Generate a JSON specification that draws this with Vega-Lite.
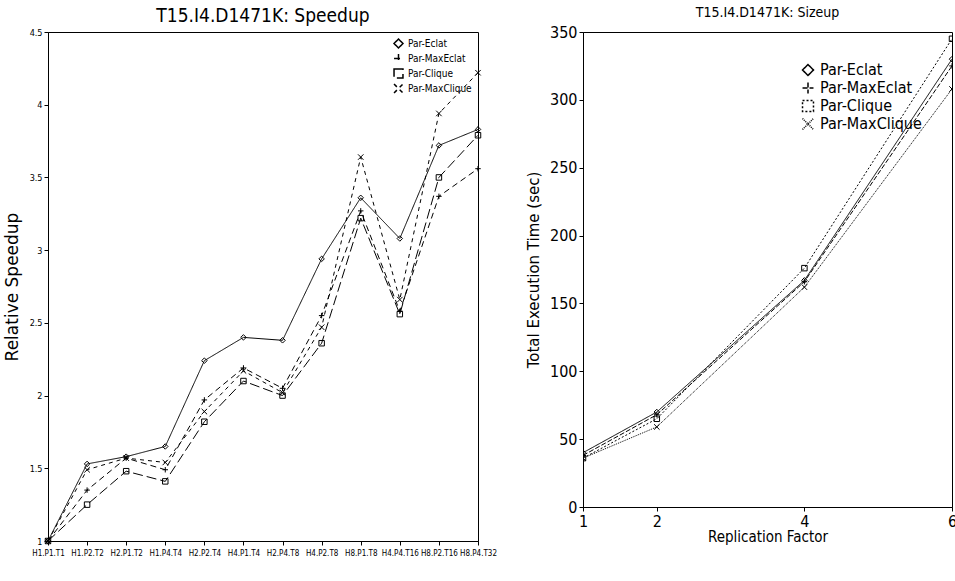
{
  "$schema": "https://vega.github.io/schema/vega-lite/v6.json",
  "background": "white",
  "padding": {"left": 2, "top": 5, "right": 0, "bottom": 0},
  "datasets": {
    "speedup": [
      {"config": "H1.P1.T1", "algo": "Par-Eclat", "speedup": 1.0},
      {"config": "H1.P2.T2", "algo": "Par-Eclat", "speedup": 1.53},
      {"config": "H2.P1.T2", "algo": "Par-Eclat", "speedup": 1.58},
      {"config": "H1.P4.T4", "algo": "Par-Eclat", "speedup": 1.65},
      {"config": "H2.P2.T4", "algo": "Par-Eclat", "speedup": 2.24},
      {"config": "H4.P1.T4", "algo": "Par-Eclat", "speedup": 2.40},
      {"config": "H2.P4.T8", "algo": "Par-Eclat", "speedup": 2.38},
      {"config": "H4.P2.T8", "algo": "Par-Eclat", "speedup": 2.94},
      {"config": "H8.P1.T8", "algo": "Par-Eclat", "speedup": 3.36},
      {"config": "H4.P4.T16", "algo": "Par-Eclat", "speedup": 3.08},
      {"config": "H8.P2.T16", "algo": "Par-Eclat", "speedup": 3.72},
      {"config": "H8.P4.T32", "algo": "Par-Eclat", "speedup": 3.83},
      {"config": "H1.P1.T1", "algo": "Par-MaxEclat", "speedup": 1.0},
      {"config": "H1.P2.T2", "algo": "Par-MaxEclat", "speedup": 1.35},
      {"config": "H2.P1.T2", "algo": "Par-MaxEclat", "speedup": 1.57},
      {"config": "H1.P4.T4", "algo": "Par-MaxEclat", "speedup": 1.49},
      {"config": "H2.P2.T4", "algo": "Par-MaxEclat", "speedup": 1.97},
      {"config": "H4.P1.T4", "algo": "Par-MaxEclat", "speedup": 2.19},
      {"config": "H2.P4.T8", "algo": "Par-MaxEclat", "speedup": 2.05},
      {"config": "H4.P2.T8", "algo": "Par-MaxEclat", "speedup": 2.55},
      {"config": "H8.P1.T8", "algo": "Par-MaxEclat", "speedup": 3.27},
      {"config": "H4.P4.T16", "algo": "Par-MaxEclat", "speedup": 2.58},
      {"config": "H8.P2.T16", "algo": "Par-MaxEclat", "speedup": 3.37},
      {"config": "H8.P4.T32", "algo": "Par-MaxEclat", "speedup": 3.56},
      {"config": "H1.P1.T1", "algo": "Par-Clique", "speedup": 1.0},
      {"config": "H1.P2.T2", "algo": "Par-Clique", "speedup": 1.25},
      {"config": "H2.P1.T2", "algo": "Par-Clique", "speedup": 1.48},
      {"config": "H1.P4.T4", "algo": "Par-Clique", "speedup": 1.41},
      {"config": "H2.P2.T4", "algo": "Par-Clique", "speedup": 1.82},
      {"config": "H4.P1.T4", "algo": "Par-Clique", "speedup": 2.10},
      {"config": "H2.P4.T8", "algo": "Par-Clique", "speedup": 2.00},
      {"config": "H4.P2.T8", "algo": "Par-Clique", "speedup": 2.36},
      {"config": "H8.P1.T8", "algo": "Par-Clique", "speedup": 3.22},
      {"config": "H4.P4.T16", "algo": "Par-Clique", "speedup": 2.56},
      {"config": "H8.P2.T16", "algo": "Par-Clique", "speedup": 3.50},
      {"config": "H8.P4.T32", "algo": "Par-Clique", "speedup": 3.79},
      {"config": "H1.P1.T1", "algo": "Par-MaxClique", "speedup": 1.0},
      {"config": "H1.P2.T2", "algo": "Par-MaxClique", "speedup": 1.49},
      {"config": "H2.P1.T2", "algo": "Par-MaxClique", "speedup": 1.57},
      {"config": "H1.P4.T4", "algo": "Par-MaxClique", "speedup": 1.54},
      {"config": "H2.P2.T4", "algo": "Par-MaxClique", "speedup": 1.89},
      {"config": "H4.P1.T4", "algo": "Par-MaxClique", "speedup": 2.17},
      {"config": "H2.P4.T8", "algo": "Par-MaxClique", "speedup": 2.02},
      {"config": "H4.P2.T8", "algo": "Par-MaxClique", "speedup": 2.47},
      {"config": "H8.P1.T8", "algo": "Par-MaxClique", "speedup": 3.64},
      {"config": "H4.P4.T16", "algo": "Par-MaxClique", "speedup": 2.66},
      {"config": "H8.P2.T16", "algo": "Par-MaxClique", "speedup": 3.94},
      {"config": "H8.P4.T32", "algo": "Par-MaxClique", "speedup": 4.22}
    ],
    "sizeup": [
      {"factor": 1, "algo": "Par-Eclat", "time": 40},
      {"factor": 2, "algo": "Par-Eclat", "time": 70},
      {"factor": 4, "algo": "Par-Eclat", "time": 167},
      {"factor": 6, "algo": "Par-Eclat", "time": 330},
      {"factor": 1, "algo": "Par-MaxEclat", "time": 38},
      {"factor": 2, "algo": "Par-MaxEclat", "time": 68},
      {"factor": 4, "algo": "Par-MaxEclat", "time": 166},
      {"factor": 6, "algo": "Par-MaxEclat", "time": 325},
      {"factor": 1, "algo": "Par-Clique", "time": 36},
      {"factor": 2, "algo": "Par-Clique", "time": 65},
      {"factor": 4, "algo": "Par-Clique", "time": 176},
      {"factor": 6, "algo": "Par-Clique", "time": 345},
      {"factor": 1, "algo": "Par-MaxClique", "time": 36},
      {"factor": 2, "algo": "Par-MaxClique", "time": 59},
      {"factor": 4, "algo": "Par-MaxClique", "time": 162},
      {"factor": 6, "algo": "Par-MaxClique", "time": 308}
    ]
  },
  "hconcat": [
    {
      "width": 430,
      "height": 509,
      "title": {"text": "T15.I4.D1471K: Speedup", "fontSize": 19, "fontWeight": "normal", "offset": 2},
      "data": {"name": "speedup"},
      "encoding": {
        "x": {"field": "config", "type": "ordinal", "title": null,
          "sort": ["H1.P1.T1", "H1.P2.T2", "H2.P1.T2", "H1.P4.T4", "H2.P2.T4", "H4.P1.T4", "H2.P4.T8", "H4.P2.T8", "H8.P1.T8", "H4.P4.T16", "H8.P2.T16", "H8.P4.T32"],
          "scale": {"type": "point", "padding": 0},
          "axis": {"labelAngle": 0, "labelFontSize": 8, "labelOverlap": false, "labelPadding": 4}},
        "y": {"field": "speedup", "type": "quantitative", "title": "Relative Speedup",
          "scale": {"domain": [1, 4.5]},
          "axis": {"values": [1, 1.5, 2, 2.5, 3, 3.5, 4, 4.5], "format": "~g", "labelFontSize": 9, "titleFontSize": 17, "titleFont": "DejaVu Sans", "titleFontWeight": "normal", "titlePadding": 8}}
      },
      "layer": [
        {"mark": {"type": "line", "color": "black", "strokeWidth": 1},
         "encoding": {"strokeDash": {"field": "algo", "type": "nominal", "title": "",
          "scale": {"domain": ["Par-Eclat", "Par-MaxEclat", "Par-Clique", "Par-MaxClique"], "range": [[1, 0], [6, 4], [10, 4], [4, 4]]},
          "legend": {"orient": "top-right", "labelFontSize": 10, "offset": 6, "symbolSize": 80}}}},
        {"mark": {"type": "point", "stroke": "black", "filled": false, "fillOpacity": 0, "size": 30, "strokeWidth": 1},
         "encoding": {"shape": {"field": "algo", "type": "nominal", "legend": null,
          "scale": {"domain": ["Par-Eclat", "Par-MaxEclat", "Par-Clique", "Par-MaxClique"], "range": ["diamond", "M-1,0H1M0,-1V1", "square", "M-1,-1L1,1M-1,1L1,-1"]}}}}
      ]
    },
    {
      "width": 369,
      "height": 475,
      "title": {"text": "T15.I4.D1471K: Sizeup", "fontSize": 14, "fontWeight": "normal", "offset": 4},
      "data": {"name": "sizeup"},
      "encoding": {
        "x": {"field": "factor", "type": "quantitative", "title": "Replication Factor",
          "scale": {"domain": [1, 6]},
          "axis": {"values": [1, 2, 4, 6], "labelFontSize": 16, "titleFontSize": 15, "titleFontWeight": "normal", "titlePadding": 0, "labelFlush": false}},
        "y": {"field": "time", "type": "quantitative", "title": "Total Execution Time (sec)",
          "scale": {"domain": [0, 350]},
          "axis": {"values": [0, 50, 100, 150, 200, 250, 300, 350], "labelFontSize": 16, "titleFontSize": 15, "titleFont": "DejaVu Sans", "titleFontWeight": "normal", "titlePadding": 8}}
      },
      "layer": [
        {"mark": {"type": "line", "color": "black", "strokeWidth": 1, "clip": true},
         "encoding": {"strokeDash": {"field": "algo", "type": "nominal", "title": null,
          "scale": {"domain": ["Par-Eclat", "Par-MaxEclat", "Par-Clique", "Par-MaxClique"], "range": [[1, 0], [5, 2], [2, 2], [1, 1]]},
          "legend": {"orient": "top-right", "labelFontSize": 16, "offset": 30, "symbolSize": 120}}}},
        {"mark": {"type": "point", "stroke": "black", "filled": false, "fillOpacity": 0, "size": 30, "strokeWidth": 1, "clip": true},
         "encoding": {"shape": {"field": "algo", "type": "nominal", "legend": null,
          "scale": {"domain": ["Par-Eclat", "Par-MaxEclat", "Par-Clique", "Par-MaxClique"], "range": ["diamond", "M-1,0H1M0,-1V1", "square", "M-1,-1L1,1M-1,1L1,-1"]}}}}
      ]
    }
  ],
  "resolve": {"scale": {"strokeDash": "independent", "shape": "independent"}, "legend": {"strokeDash": "independent", "shape": "independent"}},
  "spacing": 28,
  "config": {
    "font": "DejaVu Sans Condensed, Liberation Sans",
    "view": {"stroke": "black", "strokeWidth": 1},
    "axis": {"grid": false, "domainColor": "black", "tickColor": "black", "labelColor": "black", "titleColor": "black", "tickSize": 4},
    "legend": {"symbolStrokeColor": "black", "symbolType": "stroke", "rowPadding": 0, "padding": 0}
  }
}
